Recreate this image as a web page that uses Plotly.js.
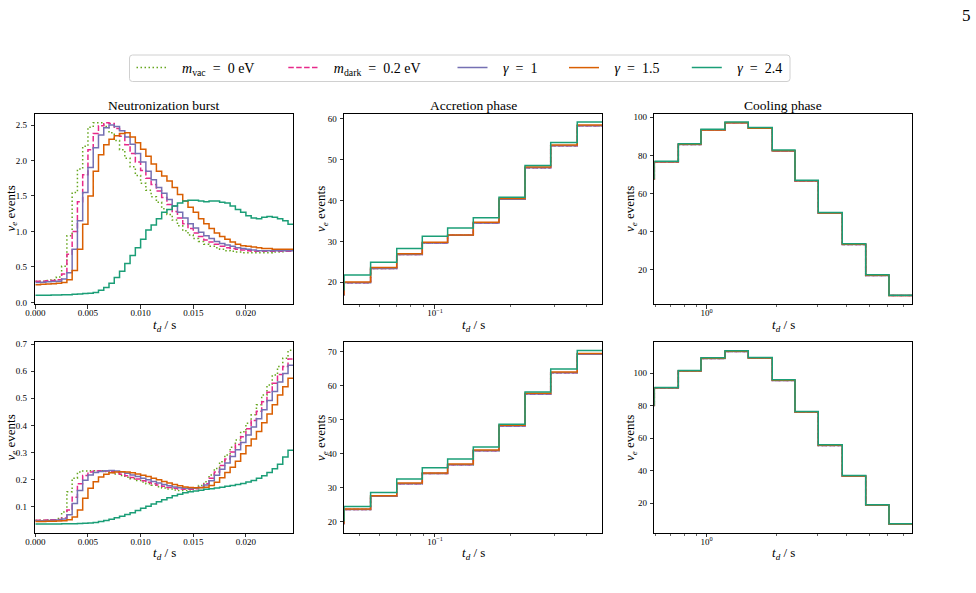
<!DOCTYPE html>
<html><head><meta charset="utf-8">
<script src="https://cdn.plot.ly/plotly-3.0.1.min.js"></script>
<style>html,body{margin:0;padding:0;background:#fff;}#chart{width:976px;height:593px;}</style>
</head><body><div id="chart"></div>
<script>
// ---------- data ----------
const burstEdges = [0, 0.0005, 0.001, 0.0015, 0.002, 0.0025, 0.003, 0.0035, 0.004, 0.0045, 0.005, 0.0055, 0.006, 0.0065, 0.007, 0.0075, 0.008, 0.0085, 0.009, 0.0095, 0.01, 0.0105, 0.011, 0.0115, 0.012, 0.0125, 0.013, 0.0135, 0.014, 0.0145, 0.015, 0.0155, 0.016, 0.0165, 0.017, 0.0175, 0.018, 0.0185, 0.019, 0.0195, 0.02, 0.0205, 0.021, 0.0215, 0.022, 0.0225, 0.023, 0.0235, 0.024, 0.0245];
const accretionEdges = [0.0434, 0.0554, 0.0704, 0.0890, 0.1123, 0.1421, 0.1799, 0.2284, 0.2891, 0.3688, 0.4628];
const coolingEdges = [0.5954, 0.7551, 0.9451, 1.1986, 1.5096, 1.9144, 2.3971, 3.0182, 3.8282, 4.8274, 6.0783, 7.6561];

// top row, neutronization burst
const burstTopVac = [0.30, 0.30,0.30,0.31,0.32,0.36, 0.51,0.94,1.55,1.88,2.20, 2.47,2.53,2.53,2.48,2.39, 2.28,2.15,2.03,1.91,1.79, 1.68,1.58,1.49,1.41,1.32, 1.24,1.16,1.08,1.01,0.95, 0.90,0.86,0.82,0.79,0.77, 0.75,0.73,0.72,0.71,0.70, 0.70,0.70,0.70,0.70,0.70, 0.71,0.71,0.72,0.72];
const burstTopDark = [0.30, 0.30,0.30,0.305,0.31,0.32, 0.40,0.68,1.00,1.42,1.80, 2.15,2.38,2.49,2.53,2.52, 2.45,2.34,2.22,2.10,1.98, 1.86,1.75,1.66,1.57,1.48, 1.38,1.28,1.19,1.11,1.04, 0.98,0.93,0.88,0.85,0.82, 0.79,0.77,0.76,0.75,0.74, 0.73,0.72,0.72,0.72,0.72, 0.72,0.72,0.72,0.72];
const burstTopG1 = [0.28, 0.28,0.285,0.29,0.295,0.30, 0.33,0.42,0.75,1.15,1.55, 1.90,2.18,2.36,2.46,2.50, 2.48,2.42,2.33,2.23,2.10, 1.98,1.85,1.73,1.62,1.54, 1.45,1.36,1.27,1.19,1.11, 1.05,0.99,0.94,0.90,0.86, 0.83,0.81,0.79,0.77,0.76, 0.75,0.74,0.73,0.73,0.73, 0.73,0.73,0.73,0.73];
const burstTopG15 = [0.25, 0.25,0.255,0.26,0.265,0.27, 0.28,0.32,0.45,0.75,1.10, 1.50,1.85,2.08,2.22,2.30, 2.35,2.38,2.39,2.33,2.25, 2.16,2.06,1.95,1.85,1.78, 1.71,1.62,1.52,1.43,1.34, 1.27,1.18,1.11,1.04,0.98, 0.93,0.89,0.85,0.82,0.80, 0.79,0.78,0.77,0.76,0.76, 0.75,0.75,0.75,0.75];
const burstTopG24 = [0.10, 0.10,0.10,0.10,0.105,0.105, 0.11,0.11,0.115,0.12,0.125, 0.13,0.14,0.17,0.21,0.27, 0.35,0.44,0.55,0.66,0.77, 0.89,1.02,1.09,1.18,1.27, 1.31,1.36,1.40,1.43,1.44, 1.44,1.43,1.42,1.43,1.43, 1.41,1.40,1.36,1.31,1.27, 1.22,1.19,1.18,1.20,1.21, 1.20,1.18,1.15,1.10];

// bottom row, neutronization burst
const burstBotVac = [0.050, 0.050,0.050,0.051,0.052,0.056, 0.080,0.155,0.205,0.228,0.232, 0.233,0.233,0.233,0.230,0.226, 0.221,0.215,0.209,0.203,0.197, 0.191,0.185,0.179,0.174,0.169, 0.165,0.162,0.160,0.160,0.162, 0.168,0.178,0.192,0.217,0.241, 0.266,0.291,0.319,0.346,0.377, 0.408,0.439,0.476,0.512,0.549, 0.586,0.617,0.648,0.677];
const burstBotDark = [0.050, 0.050,0.050,0.051,0.052,0.053, 0.058,0.088,0.135,0.185,0.215, 0.228,0.232,0.233,0.232,0.229, 0.225,0.220,0.214,0.208,0.202, 0.196,0.190,0.185,0.180,0.175, 0.171,0.168,0.165,0.164,0.164, 0.166,0.172,0.185,0.205,0.228, 0.252,0.276,0.302,0.330,0.358, 0.388,0.418,0.452,0.487,0.522, 0.556,0.588,0.617,0.645];
const burstBotG1 = [0.048, 0.048,0.048,0.049,0.050,0.051, 0.055,0.070,0.112,0.160,0.198, 0.217,0.226,0.230,0.233,0.234, 0.232,0.228,0.223,0.217,0.211, 0.205,0.199,0.193,0.187,0.182, 0.177,0.173,0.170,0.168,0.167, 0.168,0.171,0.180,0.196,0.216, 0.238,0.261,0.285,0.310,0.337, 0.365,0.394,0.425,0.458,0.492, 0.525,0.560,0.592,0.622];
const burstBotG15 = [0.045, 0.045,0.045,0.046,0.046,0.047, 0.048,0.052,0.062,0.088,0.131, 0.168,0.192,0.210,0.220,0.225, 0.228,0.229,0.228,0.225,0.221, 0.216,0.211,0.205,0.199,0.193, 0.187,0.182,0.177,0.173,0.171, 0.170,0.170,0.172,0.178,0.190, 0.207,0.226,0.246,0.268,0.295, 0.325,0.350,0.378,0.410,0.442, 0.476,0.512,0.543,0.574];
const burstBotG24 = [0.036, 0.036,0.036,0.036,0.036,0.036, 0.037,0.037,0.037,0.038,0.039, 0.040,0.042,0.045,0.049,0.054, 0.059,0.065,0.071,0.078,0.086, 0.094,0.102,0.110,0.118,0.126, 0.133,0.140,0.146,0.151,0.155, 0.158,0.161,0.164,0.166,0.169, 0.172,0.175,0.178,0.182,0.186, 0.191,0.197,0.205,0.214,0.226, 0.240,0.257,0.283,0.308];

// accretion phase
const accTopVac  = [16.8, 19.9, 23.4, 26.8, 29.6, 31.5, 34.5, 40.3, 48.0, 53.4, 58.3];
const accTopDark = [16.8, 19.9, 23.4, 26.8, 29.6, 31.5, 34.5, 40.3, 48.0, 53.4, 58.3];
const accTopG1   = [16.8, 19.9, 23.4, 26.8, 29.6, 31.5, 34.5, 40.3, 48.0, 53.4, 58.3];
const accTopG15  = [16.9, 20.1, 23.6, 27.0, 29.8, 31.6, 34.7, 40.5, 48.2, 53.6, 58.5];
const accTopG24  = [18.0, 21.8, 24.9, 28.3, 31.3, 33.3, 35.8, 40.8, 48.6, 54.2, 59.2];
const accBotVac  = [19.2, 23.5, 27.4, 31.1, 34.1, 36.7, 40.8, 48.1, 57.5, 63.8, 69.2];
const accBotDark = [19.2, 23.5, 27.4, 31.1, 34.1, 36.7, 40.8, 48.1, 57.5, 63.8, 69.2];
const accBotG1   = [19.2, 23.5, 27.4, 31.1, 34.1, 36.7, 40.8, 48.1, 57.5, 63.8, 69.2];
const accBotG15  = [19.3, 23.7, 27.6, 31.3, 34.3, 36.9, 41.0, 48.3, 57.7, 64.0, 69.4];
const accBotG24  = [20.0, 24.4, 28.5, 32.5, 35.8, 38.4, 41.9, 48.6, 58.1, 64.9, 70.3];

// cooling phase
const coolTopVac  = [67.2, 76.6, 85.8, 93.3, 97.1, 94.2, 82.4, 66.6, 49.7, 33.3, 17.1, 6.5];
const coolTopDark = [67.2, 76.6, 85.8, 93.3, 97.1, 94.2, 82.4, 66.6, 49.7, 33.3, 17.1, 6.5];
const coolTopG1   = [67.2, 76.6, 85.8, 93.3, 97.1, 94.2, 82.4, 66.6, 49.7, 33.3, 17.1, 6.5];
const coolTopG15  = [67.3, 76.7, 85.9, 93.4, 97.2, 94.3, 82.5, 66.7, 49.8, 33.4, 17.2, 6.6];
const coolTopG24  = [67.5, 77.0, 86.2, 93.7, 97.5, 94.6, 82.8, 67.0, 50.1, 33.7, 17.4, 6.7];
const coolBotVac  = [79.7, 90.9, 101.3, 109.1, 113.4, 109.3, 95.6, 76.1, 55.6, 36.7, 18.8, 7.1];
const coolBotDark = [79.7, 90.9, 101.3, 109.1, 113.4, 109.3, 95.6, 76.1, 55.6, 36.7, 18.8, 7.1];
const coolBotG1   = [79.7, 90.9, 101.3, 109.1, 113.4, 109.3, 95.6, 76.1, 55.6, 36.7, 18.8, 7.1];
const coolBotG15  = [79.8, 91.0, 101.4, 109.2, 113.5, 109.4, 95.7, 76.2, 55.7, 36.8, 18.9, 7.2];
const coolBotG24  = [80.0, 91.3, 101.7, 109.5, 113.8, 109.7, 96.0, 76.5, 56.0, 37.1, 19.1, 7.4];

const NB = '\u00A0';
const seriesNames = [
  '<i>m</i><sub>vac</sub>' + NB + NB + '=' + NB + NB + '0 eV',
  '<i>m</i><sub>dark</sub>' + NB + NB + '=' + NB + NB + '0.2 eV',
  '<i>γ</i>' + NB + NB + '=' + NB + NB + '1',
  '<i>γ</i>' + NB + NB + '=' + NB + NB + '1.5',
  '<i>γ</i>' + NB + NB + '=' + NB + NB + '2.4'
];
const seriesColors = ['#66a61e', '#e7298a', '#7570b3', '#d95f02', '#1b9e77'];
const seriesDash = ['1.5px,2.5px', '5.5px,2.4px', 'solid', 'solid', 'solid'];
const panelTitles = ['Neutronization burst', 'Accretion phase', 'Cooling phase'];
const xTitleText = '<i>t</i><sub><i>d</i></sub> / s';
const yTitleText = '<i>ν</i><sub><i>e</i></sub> events';

// ---------- layout geometry (pixels) ----------
const W = 976, H = 593;
const fx = p => p / W, fy = p => 1 - p / H;
const cols = [[35.3, 293.3], [344, 602], [654.3, 912.3]];
const rows = [[113.5, 304], [341.7, 532.7]];
const FONT = 'Liberation Serif, Times New Roman, serif';

const panels = [
  {edges: burstEdges, ys: [burstTopVac, burstTopDark, burstTopG1, burstTopG15, burstTopG24]},
  {edges: accretionEdges, ys: [accTopVac, accTopDark, accTopG1, accTopG15, accTopG24]},
  {edges: coolingEdges, ys: [coolTopVac, coolTopDark, coolTopG1, coolTopG15, coolTopG24]},
  {edges: burstEdges, ys: [burstBotVac, burstBotDark, burstBotG1, burstBotG15, burstBotG24]},
  {edges: accretionEdges, ys: [accBotVac, accBotDark, accBotG1, accBotG15, accBotG24]},
  {edges: coolingEdges, ys: [coolBotVac, coolBotDark, coolBotG1, coolBotG15, coolBotG24]}
];
const legendIds = ['legend', 'legend2', 'legend3', 'legend4', 'legend5'];

const traces = [];
panels.forEach((p, pi) => {
  const n = pi + 1;
  p.ys.forEach((y, si) => {
    traces.push({
      type: 'scatter', mode: 'lines', x: p.edges, y: y,
      xaxis: 'x' + (n === 1 ? '' : n), yaxis: 'y' + (n === 1 ? '' : n),
      line: {shape: 'vh', color: seriesColors[si], width: 1.5, dash: seriesDash[si]},
      name: NB + NB + NB + seriesNames[si], showlegend: pi === 0, legend: legendIds[si],
      hoverinfo: 'skip'
    });
  });
});

const tickFont = {family: FONT, size: 9, color: '#000'};
const titleFont = {family: FONT, size: 13, color: '#000'};
function baseAxis(extra) {
  return Object.assign({
    showline: true, mirror: true, linecolor: '#000', linewidth: 1,
    ticks: 'outside', ticklen: 3.5, tickwidth: 0.8, tickcolor: '#000',
    showgrid: false, zeroline: false, tickfont: tickFont, automargin: false
  }, extra);
}

const layout = {
  width: W, height: H, margin: {l: 0, r: 0, t: 0, b: 0},
  paper_bgcolor: '#fff', plot_bgcolor: '#fff',
  font: {family: FONT, color: '#000'},
  showlegend: true,
  annotations: [], shapes: []
};
const burstX = {range: [0, 0.0245], tickvals: [0, 0.005, 0.01, 0.015, 0.02], tickformat: '.3f'};
const accX = {type: 'log', range: [Math.log10(0.0434), Math.log10(0.4628)], tickmode: 'array', tickvals: [0.1], ticktext: ['10<sup>−1</sup>'],
  minor: {tickmode: 'array', tickvals: [0.05, 0.06, 0.07, 0.08, 0.09, 0.2, 0.3, 0.4], ticks: 'outside', ticklen: 2, tickwidth: 0.6, tickcolor: '#000'}};
const coolX = {type: 'log', range: [Math.log10(0.5954), Math.log10(7.6561)], tickmode: 'array', tickvals: [1], ticktext: ['10<sup>0</sup>'],
  minor: {tickmode: 'array', tickvals: [0.6, 0.7, 0.8, 0.9, 2, 3, 4, 5, 6, 7], ticks: 'outside', ticklen: 2, tickwidth: 0.6, tickcolor: '#000'}};
const yCfg = [
  {range: [-0.022, 2.662], tickvals: [0, 0.5, 1, 1.5, 2, 2.5], tickformat: '.1f'},
  {range: [14.7, 61.3], tickvals: [20, 30, 40, 50, 60]},
  {range: [2.1, 102], tickvals: [20, 40, 60, 80, 100]},
  {range: [0.004, 0.709], tickvals: [0.1, 0.2, 0.3, 0.4, 0.5, 0.6, 0.7], tickformat: '.1f'},
  {range: [16.7, 72.9], tickvals: [20, 30, 40, 50, 60, 70]},
  {range: [1.9, 119.4], tickvals: [20, 40, 60, 80, 100]}
];
const xCfg = [burstX, accX, coolX, burstX, accX, coolX];
const yTitleX = [10.5, 321, 630];
const yTitleY = [209, 438];
const xTitleY = [325, 553];
for (let i = 0; i < 6; i++) {
  const n = i + 1, c = cols[i % 3], r = rows[Math.floor(i / 3)];
  const xa = 'xaxis' + (n === 1 ? '' : n), ya = 'yaxis' + (n === 1 ? '' : n);
  layout[xa] = baseAxis(Object.assign({domain: [fx(c[0]), fx(c[1])], anchor: 'y' + (n === 1 ? '' : n), ticklabelstandoff: -3}, xCfg[i]));
  layout[ya] = baseAxis(Object.assign({domain: [fy(r[1]), fy(r[0])], anchor: 'x' + (n === 1 ? '' : n), tickmode: 'array', ticklabelstandoff: (i % 3 === 0 ? 2 : 1)}, yCfg[i]));
  // axis titles
  layout.annotations.push({text: xTitleText, xref: 'paper', yref: 'paper', x: fx((c[0] + c[1]) / 2), y: fy(xTitleY[Math.floor(i / 3)]),
    xanchor: 'center', yanchor: 'middle', showarrow: false, font: titleFont});
  layout.annotations.push({text: yTitleText, xref: 'paper', yref: 'paper', x: fx(yTitleX[i % 3]), y: fy(yTitleY[Math.floor(i / 3)]),
    xanchor: 'center', yanchor: 'middle', textangle: -90, showarrow: false, font: titleFont});
}
// subplot titles
panelTitles.forEach((t, i) => {
  layout.annotations.push({text: t, xref: 'paper', yref: 'paper', x: fx((cols[i][0] + cols[i][1]) / 2), y: fy(106),
    xanchor: 'center', yanchor: 'middle', showarrow: false, font: {family: FONT, size: 13.5, color: '#000'}});
});
// page number
layout.annotations.push({text: '5', xref: 'paper', yref: 'paper', x: fx(966), y: fy(15), xanchor: 'center', yanchor: 'middle',
  showarrow: false, font: {family: FONT, size: 17, color: '#000'}});

// legends, one per entry, placed at matplotlib-like positions
const legendLineStart = [136.5, 288.3, 457.5, 569, 691.8];
legendIds.forEach((id, i) => {
  layout[id] = {x: fx(legendLineStart[i] - 5), xanchor: 'left', y: fy(68), yanchor: 'middle', orientation: 'h',
    bgcolor: 'rgba(0,0,0,0)', borderwidth: 0, itemwidth: 30, font: {family: FONT, size: 14, color: '#000'}};
});
// legend frame (rounded)
(function () {
  const x0 = 129.5, x1 = 790, y0 = 55, y1 = 81.5, r = 3;
  const X = v => fx(v).toFixed(5), Y = v => fy(v).toFixed(5);
  const path = `M${X(x0 + r)},${Y(y0)} L${X(x1 - r)},${Y(y0)} Q${X(x1)},${Y(y0)} ${X(x1)},${Y(y0 + r)} L${X(x1)},${Y(y1 - r)} Q${X(x1)},${Y(y1)} ${X(x1 - r)},${Y(y1)} L${X(x0 + r)},${Y(y1)} Q${X(x0)},${Y(y1)} ${X(x0)},${Y(y1 - r)} L${X(x0)},${Y(y0 + r)} Q${X(x0)},${Y(y0)} ${X(x0 + r)},${Y(y0)} Z`;
  layout.shapes.push({type: 'path', xref: 'paper', yref: 'paper', path: path, line: {color: '#d0d0d0', width: 1}, fillcolor: 'rgba(0,0,0,0)', layer: 'below'});
})();

Plotly.newPlot('chart', traces, layout, {staticPlot: true, displayModeBar: false});
</script>
</body></html>
